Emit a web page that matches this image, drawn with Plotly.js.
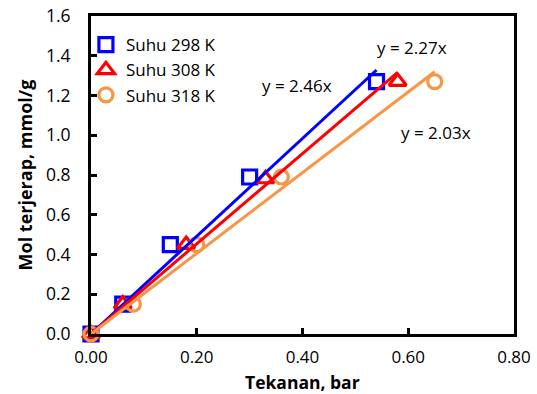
<!DOCTYPE html>
<html>
<head>
<meta charset="utf-8">
<script src="https://cdn.plot.ly/plotly-3.0.1.min.js"></script>
<style>html,body{margin:0;padding:0;background:#fff;}#chart{width:537px;height:394px;}</style>
</head>
<body>
<div id="chart"></div>
<script>
// Data
const seriesNames = ["Suhu 298 K", "Suhu 308 K", "Suhu 318 K"];
const x298 = [0, 0.06, 0.15, 0.30, 0.54];
const y298 = [0, 0.15, 0.45, 0.79, 1.27];
const x308 = [0, 0.06, 0.18, 0.33, 0.58];
const y308 = [0, 0.15, 0.45, 0.78, 1.27];
const x318 = [0, 0.08, 0.20, 0.36, 0.65];
const y318 = [0, 0.15, 0.45, 0.79, 1.27];
const slopes = [2.46, 2.27, 2.03];
const equationLabels = ["y = 2.46x", "y = 2.27x", "y = 2.03x"];
const xTicks = [0, 0.2, 0.4, 0.6, 0.8];
const yTicks = [0, 0.2, 0.4, 0.6, 0.8, 1.0, 1.2, 1.4, 1.6];
const xTitle = "Tekanan, bar";
const yTitle = "Mol terjerap, mmol/g";

const colors = ["#0000FF", "#FF0000", "#F79646"];
const symbols = ["square-open", "triangle-up-open", "circle-open"];
const xs = [x298, x308, x318];
const ys = [y298, y308, y318];
const FONT = "Open Sans, Liberation Sans, sans-serif";

const traces = [];
for (let i = 0; i < 3; i++) {
  traces.push({
    x: xs[i], y: ys[i], name: seriesNames[i], type: "scatter", mode: "markers",
    cliponaxis: false,
    marker: {symbol: symbols[i], size: i === 1 ? 15 : 14, color: colors[i], line: {width: 3.2, color: colors[i]}}
  });
}
for (let i = 0; i < 3; i++) {
  const xmax = Math.max(...xs[i]);
  traces.push({
    x: [0, xmax], y: [0, slopes[i] * xmax], type: "scatter", mode: "lines",
    showlegend: false, hoverinfo: "skip", cliponaxis: false,
    line: {color: colors[i], width: 3}
  });
}

const annPos = [[0.389, 1.248], [0.608, 1.44], [0.652, 1.013]];
const annotations = equationLabels.map((t, i) => ({
  text: t, x: annPos[i][0], y: annPos[i][1], xref: "x", yref: "y",
  showarrow: false, font: {family: FONT, size: 17, color: "#000"}
}));
annotations.push({
  text: "<b>" + xTitle + "</b>", xref: "paper", yref: "paper", x: 0.5, y: -61 / 318,
  xanchor: "center", yanchor: "bottom", showarrow: false, borderpad: 0,
  font: {family: FONT, size: 17.5, color: "#000"}
});

const axisCommon = {
  showline: true, linecolor: "#000", linewidth: 3, mirror: true,
  ticks: "inside", ticklen: 6, tickwidth: 3, tickcolor: "#000",
  showgrid: false, zeroline: false,
  tickfont: {family: FONT, size: 17, color: "#000"}
};

const layout = {
  width: 537, height: 394,
  margin: {l: 91, r: 23, t: 16, b: 60},
  paper_bgcolor: "#fff", plot_bgcolor: "#fff",
  showlegend: true,
  legend: {x: -0.012, y: 0.965, xanchor: "left", yanchor: "top", bgcolor: "rgba(0,0,0,0)",
           font: {family: FONT, size: 17, color: "#000"}, tracegroupgap: 0},
  xaxis: Object.assign({}, axisCommon, {
    range: [0, 0.8], tickvals: xTicks, tickformat: ".2f", ticklabelstandoff: 6
  }),
  yaxis: Object.assign({}, axisCommon, {
    range: [0, 1.6], tickvals: yTicks, tickformat: ".1f", ticklabelstandoff: 14,
    tickfont: {family: FONT, size: 17.5, color: "#000"},
    title: {text: "<b>" + yTitle + "</b>", font: {family: FONT, size: 18, color: "#000"}, standoff: 9}
  }),
  annotations: annotations
};

Plotly.newPlot("chart", traces, layout, {displayModeBar: false, staticPlot: true});
</script>
</body>
</html>
